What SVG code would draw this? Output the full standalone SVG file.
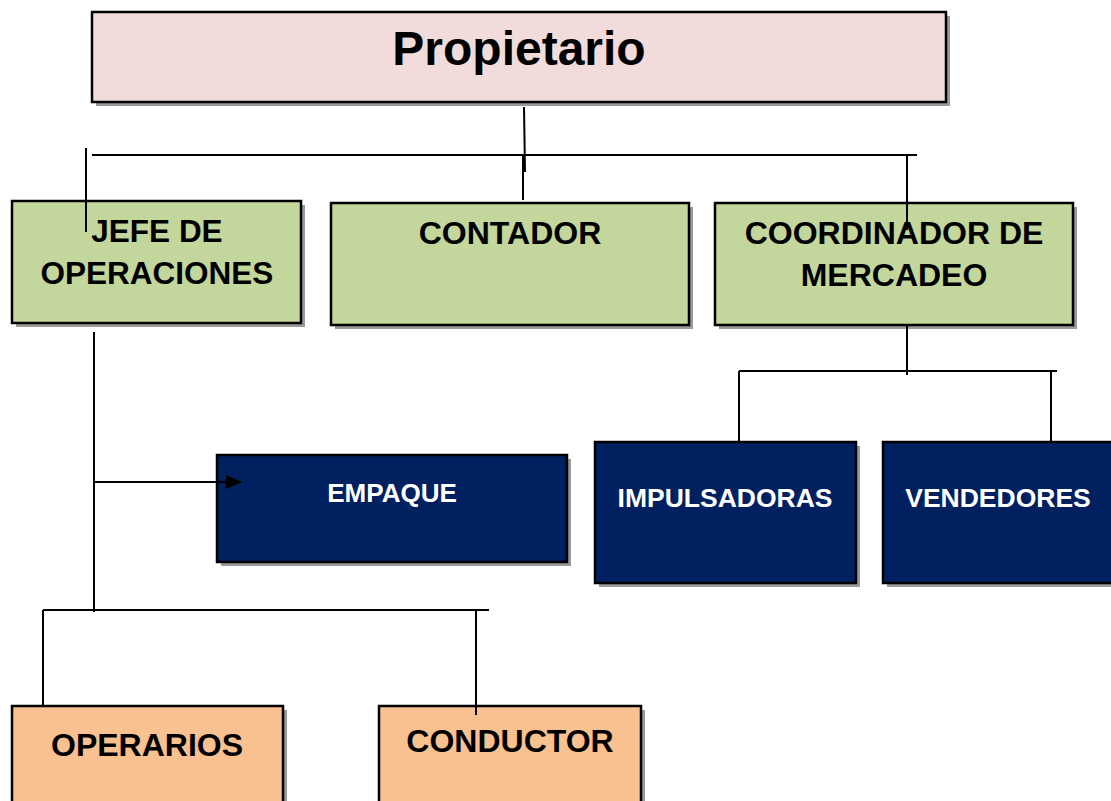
<svg xmlns="http://www.w3.org/2000/svg" width="1111" height="801" viewBox="0 0 1111 801">
<defs>
<style>
.box{stroke:#000;stroke-width:2.5}
.sh{fill:#9a9a9a}
.pink{fill:#F2DCDB}
.green{fill:#C3D69B}
.navy{fill:#00205F}
.orange{fill:#F9C090}
.t{font-family:"Liberation Sans",Arial,sans-serif;font-weight:bold;text-anchor:middle;fill:#000}
.tw{font-family:"Liberation Sans",Arial,sans-serif;font-weight:bold;text-anchor:middle;fill:#fff}
.ln{stroke:#000;stroke-width:2;fill:none}
</style>
<marker id="arr" markerWidth="16" markerHeight="14" refX="15" refY="7" orient="auto" markerUnits="userSpaceOnUse">
<path d="M0,0 L16,7 L0,14 z" fill="#000"/>
</marker>
</defs>
<rect width="1111" height="801" fill="#fff"/>

<g id="propietario">
<rect class="sh" x="96" y="16" width="854" height="90"/>
<rect class="box pink" x="92" y="12" width="854" height="90"/>
<text class="t" x="519" y="65" font-size="48">Propietario</text>
</g>

<g id="jefe">
<rect class="sh" x="16" y="205" width="289" height="122"/>
<rect class="box green" x="12" y="201" width="289" height="122"/>
<text class="t" x="157" y="242" font-size="31.5">JEFE DE</text>
<text class="t" x="157" y="284" font-size="31.5">OPERACIONES</text>
</g>

<g id="contador">
<rect class="sh" x="335" y="207" width="358" height="122"/>
<rect class="box green" x="331" y="203" width="358" height="122"/>
<text class="t" x="510" y="244" font-size="32">CONTADOR</text>
</g>

<g id="coordinador">
<rect class="sh" x="719" y="207" width="358" height="122"/>
<rect class="box green" x="715" y="203" width="358" height="122"/>
<text class="t" x="894" y="244" font-size="32">COORDINADOR DE</text>
<text class="t" x="894" y="286" font-size="32">MERCADEO</text>
</g>

<g id="empaque">
<rect class="sh" x="221" y="459" width="350" height="107"/>
<rect class="box navy" x="217" y="455" width="350" height="107"/>
<text class="tw" x="392" y="502" font-size="26">EMPAQUE</text>
</g>

<g id="impulsadoras">
<rect class="sh" x="599" y="446" width="261" height="141"/>
<rect class="box navy" x="595" y="442" width="261" height="141"/>
<text class="tw" x="725" y="507" font-size="26.5">IMPULSADORAS</text>
</g>

<g id="vendedores">
<rect class="sh" x="887" y="446" width="240" height="141"/>
<rect class="box navy" x="883" y="442" width="240" height="141"/>
<text class="tw" x="998" y="507" font-size="26.5">VENDEDORES</text>
</g>

<g id="operarios">
<rect class="sh" x="16" y="710" width="271" height="110"/>
<rect class="box orange" x="12" y="706" width="271" height="110"/>
<text class="t" x="147" y="756" font-size="32">OPERARIOS</text>
</g>

<g id="conductor">
<rect class="sh" x="383" y="710" width="262" height="110"/>
<rect class="box orange" x="379" y="706" width="262" height="110"/>
<text class="t" x="510" y="752" font-size="32">CONDUCTOR</text>
</g>

<g id="connectors">
<line class="ln" x1="524" y1="107" x2="525" y2="172"/>
<line class="ln" x1="92" y1="155" x2="917" y2="155"/>
<line class="ln" x1="86" y1="148" x2="86" y2="232"/>
<line class="ln" x1="523" y1="155" x2="523" y2="200"/>
<line class="ln" x1="907" y1="155" x2="907" y2="230"/>
<line class="ln" x1="907" y1="325" x2="907" y2="375"/>
<line class="ln" x1="739" y1="371" x2="1057" y2="371"/>
<line class="ln" x1="739" y1="371" x2="739" y2="442"/>
<line class="ln" x1="1051" y1="371" x2="1051" y2="442"/>
<line class="ln" x1="94" y1="332" x2="94" y2="612"/>
<line class="ln" x1="94" y1="482" x2="241" y2="482" marker-end="url(#arr)"/>
<line class="ln" x1="43" y1="610" x2="489" y2="610"/>
<line class="ln" x1="43" y1="610" x2="43" y2="706"/>
<line class="ln" x1="476" y1="610" x2="476" y2="715"/>
</g>
</svg>
